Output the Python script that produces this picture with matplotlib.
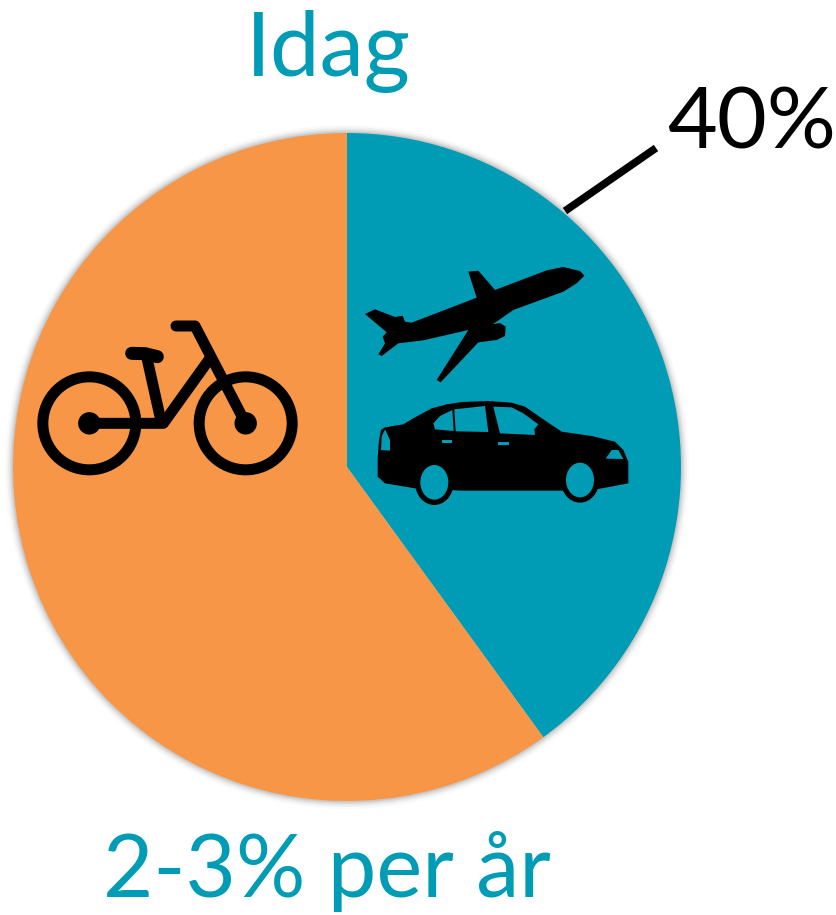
import numpy as np
import matplotlib
matplotlib.use("Agg")
import matplotlib.pyplot as plt
from matplotlib.patches import Polygon, Circle, Ellipse

plt.rcParams['font.family'] = ['Lato', 'DejaVu Sans']

shares = [40, 60]
share_colors = ['#009BB4', '#F79646']
title = "Idag"
share_label = "40%"
footer = "2-3% per år"

TEAL = '#009BB4'


def zoomed(points, x0, y0):
    # icon outlines were traced on 3x crops
    return [(x0 + px / 3.0, y0 + py / 3.0) for px, py in points]


def drawBike(ax):
    x0, y0 = 20, 300
    lw = 11 * 0.72
    clip = Polygon([(37, 300), (320, 300), (320, 490), (37, 490)], transform=ax.transData, visible=False)
    ax.add_patch(clip)
    for cx in (208, 677):
        c = zoomed([(cx, 370)], x0, y0)[0]
        w = Circle(c, 46.5, fill=False, ec='black', lw=lw, zorder=4)
        ax.add_patch(w)
        w.set_clip_path(clip)
        ax.add_patch(Circle(c, 10.5, color='black', zorder=4))
    lines = [
        [(208, 370), (430, 370), (570, 175)],
        [(380, 170), (420, 350)],
        [(468, 78), (525, 78), (677, 370)],
    ]
    for line in lines:
        pts = np.array(zoomed(line, x0, y0))
        ax.plot(pts[:, 0], pts[:, 1], color='black', lw=lw, solid_capstyle='round',
                solid_joinstyle='round', zorder=4)
    # saddle is a bit fatter than the frame
    saddle = np.array(zoomed([(335, 160), (375, 161), (412, 170)], x0, y0))
    ax.plot(saddle[:, 0], saddle[:, 1], color='black', lw=13 * 0.72, solid_capstyle='round', zorder=4)


def drawPlane(ax):
    outline = [(703, 62), (690, 48), (640, 36), (590, 46), (435, 105), (385, 47), (355, 50), (380, 128),
               (185, 203), (165, 200), (158, 182), (135, 186), (75, 163), (45, 177), (110, 232), (98, 245),
               (105, 265), (85, 298), (95, 303), (145, 265), (220, 256), (355, 225), (260, 375), (272, 382),
               (385, 262), (440, 255), (465, 243), (467, 215), (450, 204), (428, 208), (490, 165), (640, 110),
               (680, 85)]
    ax.add_patch(Polygon(zoomed(outline, 350, 255), closed=True, fc='black', ec='none', zorder=4))


def drawCar(ax):
    x0, y0 = 365, 390
    body = [(38, 205), (42, 150), (48, 120), (60, 112), (115, 103), (150, 82), (200, 55), (245, 43), (290, 36),
            (370, 33), (440, 38), (480, 50), (535, 88), (590, 125), (680, 138), (750, 155), (775, 180),
            (790, 215), (790, 280), (700, 297), (585, 302), (290, 302), (150, 295), (60, 280), (38, 260)]
    ax.add_patch(Polygon(zoomed(body, x0, y0), closed=True, fc='black', ec='none', zorder=4))
    holes = [
        [(262, 60), (225, 78), (205, 100), (210, 118), (266, 123)],
        [(268, 58), (360, 48), (370, 126), (272, 124)],
        [(385, 50), (440, 52), (475, 70), (520, 103), (508, 118), (510, 135), (405, 130)],
        [(60, 118), (50, 140), (48, 180), (75, 182), (75, 150)],
        [(722, 206), (740, 180), (760, 180), (775, 207)],
        [(230, 150), (262, 150), (262, 159), (230, 159)],
        [(400, 155), (432, 155), (432, 164), (400, 164)],
    ]
    for hole in holes:
        ax.add_patch(Polygon(zoomed(hole, x0, y0), closed=True, fc=TEAL, ec='none', zorder=5))
    for cx, cy in ((208, 277), (645, 270)):
        c = zoomed([(cx, cy)], x0, y0)[0]
        ax.add_patch(Ellipse(c, 116 / 3.0, 136 / 3.0, fc='black', ec='none', zorder=4))
        ax.add_patch(Ellipse(c, 84 / 3.0, 104 / 3.0, fc=TEAL, ec='none', zorder=5))


fig = plt.figure(figsize=(8.37, 9.15), dpi=100)
ax = fig.add_axes([0, 0, 1, 1])

# soft shadow round the pie
for extra, alpha in ((8, 0.02), (6, 0.03), (4.5, 0.04), (3, 0.06), (1.5, 0.08)):
    ax.add_patch(Circle((347, 467), 334 + extra, color='black', alpha=alpha, lw=0, zorder=1))

# y axis is flipped below, so counterclock here reads clockwise on the page
wedges, _ = ax.pie(shares, colors=share_colors, startangle=-90, counterclock=True,
                   center=(347, 467), radius=334, frame=False)
for w in wedges:
    w.set_zorder(2)

ax.set_xlim(0, 837)
ax.set_ylim(915, 0)
ax.set_aspect('equal')
ax.axis('off')

drawBike(ax)
drawPlane(ax)
drawCar(ax)

ax.plot([565, 656], [211, 148], color='black', lw=5.5, solid_capstyle='butt', zorder=4)

ax.text(328, 76, title, color=TEAL, fontsize=64, ha='center', va='baseline')
ax.text(752, 148, share_label, color='black', fontsize=62, ha='center', va='baseline')
ax.text(327, 897, footer, color=TEAL, fontsize=62.5, ha='center', va='baseline')

fig.savefig("out.png", dpi=100)
